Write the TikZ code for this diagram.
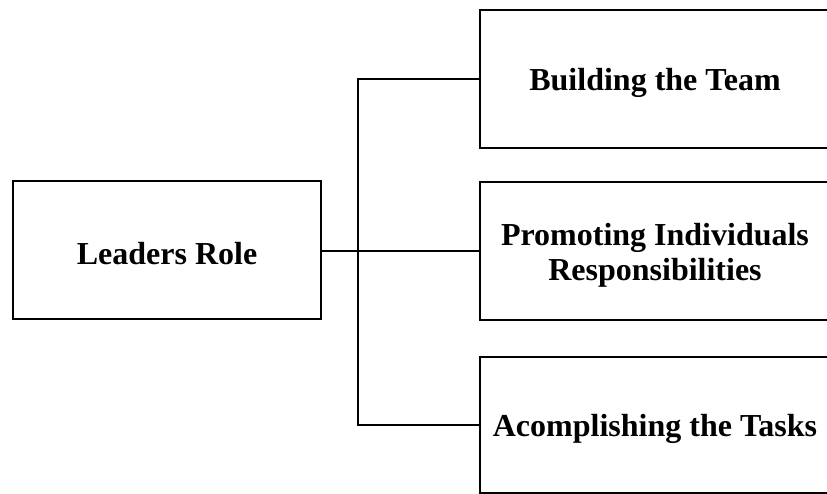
\documentclass[tikz,border=0pt]{standalone}
\usepackage{fontspec}
\setmainfont{Liberation Serif}
\begin{document}
\begin{tikzpicture}[x=1pt,y=-1pt,
  box/.style={draw=black,line width=2.5pt,fill=white,inner sep=0pt},
  lbl/.style={align=center,font=\fontsize{32}{35}\selectfont\bfseries,inner sep=0pt,yshift=-4pt},
  conn/.style={draw=black,line width=2.5pt}]
\useasboundingbox (0,0) rectangle (827,494);
\clip (0,0) rectangle (827,494);
\node[box,minimum width=308pt,minimum height=138pt] (lead) at (167,250) {};
\node[box,minimum width=350pt,minimum height=138pt] (b1) at (655,79) {};
\node[box,minimum width=350pt,minimum height=138pt] (b2) at (655,251) {};
\node[box,minimum width=350pt,minimum height=136pt] (b3) at (655,425) {};
\node[lbl] (tlead) at (lead.center) {Leaders Role};
\node[lbl] (t1) at (b1.center) {Building the Team};
\node[lbl] (t2) at (b2.center) {Promoting Individuals\\Responsibilities};
\node[lbl] (t3) at (b3.center) {Acomplishing the Tasks};
\coordinate (j) at (358,251);
\draw[conn] (lead.east |- j) -- (b2.west);
\draw[conn] (j) |- (b1.west);
\draw[conn] (j) |- (b3.west);
\end{tikzpicture}
\end{document}
